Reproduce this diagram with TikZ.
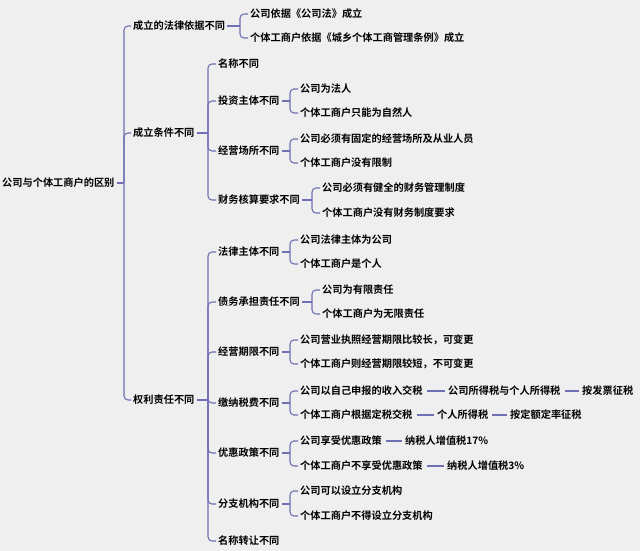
\documentclass[tikz,border=0pt]{standalone}
\usepackage{fontspec}
\setmainfont{Noto Sans CJK SC Bold}
\definecolor{bgc}{HTML}{EFEFEF}
\definecolor{linec}{HTML}{7070B4}
\tikzset{
  item/.style={anchor=west,inner sep=2pt,font=\fontsize{10.2}{11}\selectfont,text=black},
  link/.style={draw=linec,line width=1.1pt,rounded corners=4pt},
}
\begin{document}
\begin{tikzpicture}[x=1pt,y=-1pt]
\fill[bgc] (0,0) rectangle (640,551);
\useasboundingbox (0,0) rectangle (640,551);
% nodes
\node[item] (root) at (0,183) {公司与个体工商户的区别};
\node[item] (a) at (131,26) {成立的法律依据不同};
\node[item] (b) at (131,133) {成立条件不同};
\node[item] (c) at (131,400) {权利责任不同};
\node[item] (a1) at (248,14) {公司依据《公司法》成立};
\node[item] (a2) at (248,38) {个体工商户依据《城乡个体工商管理条例》成立};
\node[item] (b1) at (216,64) {名称不同};
\node[item] (b2) at (216,101) {投资主体不同};
\node[item] (b3) at (216,151) {经营场所不同};
\node[item] (b4) at (216,200) {财务核算要求不同};
\node[item] (b21) at (298,89) {公司为法人};
\node[item] (b22) at (298,113) {个体工商户只能为自然人};
\node[item] (b31) at (298,139) {公司必须有固定的经营场所及从业人员};
\node[item] (b32) at (298,163) {个体工商户没有限制};
\node[item] (b41) at (320,188) {公司必须有健全的财务管理制度};
\node[item] (b42) at (320,213) {个体工商户没有财务制度要求};
\node[item] (c1) at (216,252) {法律主体不同};
\node[item] (c2) at (216,302) {债务承担责任不同};
\node[item] (c3) at (216,352) {经营期限不同};
\node[item] (c4) at (216,403) {缴纳税费不同};
\node[item] (c5) at (216,453) {优惠政策不同};
\node[item] (c6) at (216,504) {分支机构不同};
\node[item] (c7) at (216,541) {名称转让不同};
\node[item] (c11) at (298,240) {公司法律主体为公司};
\node[item] (c12) at (298,264) {个体工商户是个人};
\node[item] (c21) at (320,290) {公司为有限责任};
\node[item] (c22) at (320,314) {个体工商户为无限责任};
\node[item] (c31) at (298,340) {公司营业执照经营期限比较长，可变更};
\node[item] (c32) at (298,364) {个体工商户则经营期限较短，不可变更};
\node[item] (c41) at (298,391) {公司以自己申报的收入交税};
\node[item] (c411) at (446,391) {公司所得税与个人所得税};
\node[item] (c412) at (580,391) {按发票征税};
\node[item] (c42) at (298,415) {个体工商户根据定税交税};
\node[item] (c421) at (435,415) {个人所得税};
\node[item] (c422) at (508,415) {按定额定率征税};
\node[item] (c51) at (298,441) {公司享受优惠政策};
\node[item] (c511) at (403,441) {纳税人增值税17\%};
\node[item] (c52) at (298,466) {个体工商户不享受优惠政策};
\node[item] (c521) at (445,466) {纳税人增值税3\%};
\node[item] (c61) at (298,491) {公司可以设立分支机构};
\node[item] (c62) at (298,516) {个体工商户不得设立分支机构};
% brackets
\foreach \p/\bx/\kids in {root/124/{a,b,c}, a/240/{a1,a2}, b/208/{b1,b2,b3,b4},
    b2/290/{b21,b22}, b3/290/{b31,b32}, b4/312/{b41,b42},
    c/208/{c1,c2,c3,c4,c5,c6,c7}, c1/290/{c11,c12}, c2/312/{c21,c22},
    c3/290/{c31,c32}, c4/290/{c41,c42}, c5/290/{c51,c52}, c6/290/{c61,c62}}{
  \draw[link] (\p.east) -- (\p.east -| \bx,0) coordinate (j);
  \foreach \k in \kids { \draw[link] (j) |- (\k.west); }
}
% chains
\foreach \u/\v in {c41/c411, c411/c412, c42/c421, c421/c422, c51/c511, c52/c521}
  \draw[link] ([xshift=2pt]\u.east) -- ([xshift=-1pt]\v.west);
\end{tikzpicture}
\end{document}
